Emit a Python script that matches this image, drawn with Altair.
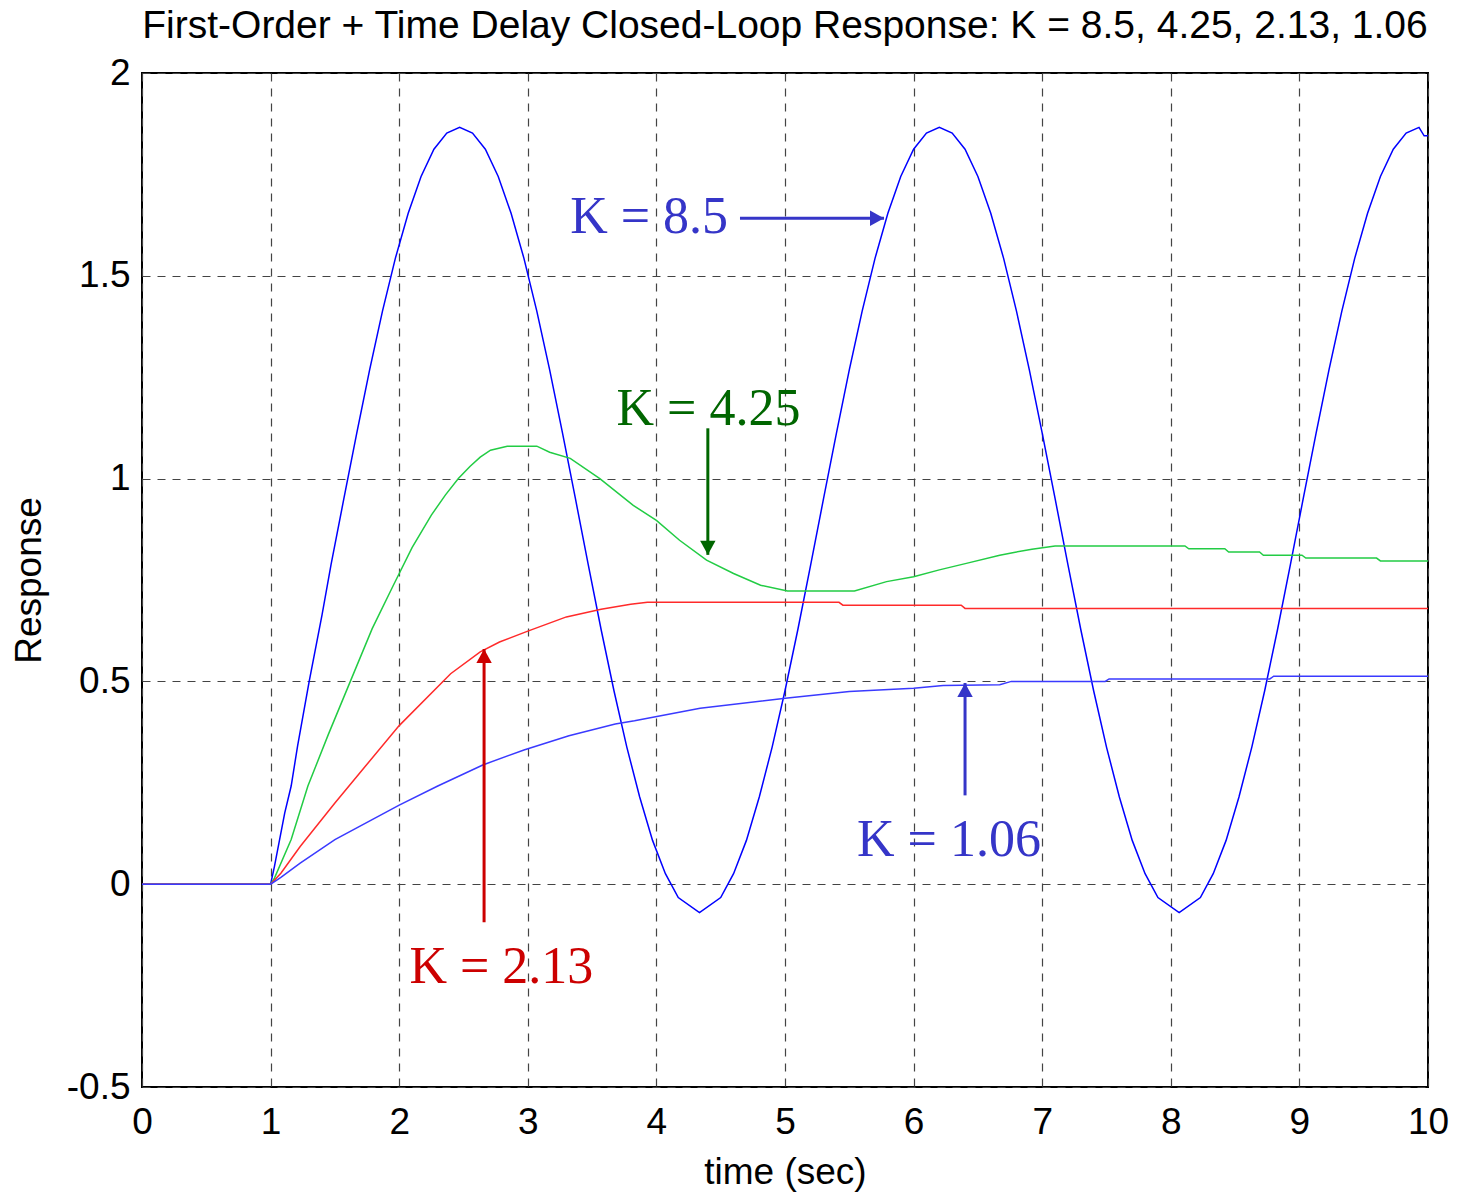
import altair as alt
import pandas as pd

# ---- data ----
t_k85 = [0, 1.0, 1.03, 1.11, 1.16, 1.21, 1.30, 1.40, 1.47, 1.57, 1.67, 1.77, 1.87, 1.97, 2.07, 2.17,
         2.27, 2.37, 2.47, 2.57, 2.67, 2.77, 2.87, 2.97, 3.07, 3.17, 3.27, 3.37, 3.47, 3.57, 3.67,
         3.77, 3.87, 3.97, 4.07, 4.17, 4.335, 4.50, 4.60, 4.70, 4.80, 4.90, 5.00, 5.10, 5.20, 5.30,
         5.40, 5.50, 5.60, 5.70, 5.80, 5.90, 6.00, 6.10, 6.20, 6.30, 6.40, 6.50, 6.60, 6.70, 6.80,
         6.90, 7.00, 7.10, 7.20, 7.30, 7.40, 7.50, 7.60, 7.70, 7.80, 7.90, 8.065, 8.23, 8.33, 8.43,
         8.53, 8.63, 8.73, 8.83, 8.93, 9.03, 9.13, 9.23, 9.33, 9.43, 9.53, 9.63, 9.73, 9.83, 9.93,
         9.97, 10.0]
v_k85 = [0, 0, 0.044, 0.176, 0.242, 0.341, 0.5, 0.664, 0.788, 0.951, 1.112, 1.268, 1.413, 1.543, 1.654, 1.745,
         1.812, 1.852, 1.866, 1.852, 1.812, 1.745, 1.654, 1.543, 1.413, 1.268, 1.112, 0.951, 0.788, 0.628, 0.477,
         0.338, 0.215, 0.108, 0.026, -0.033, -0.07, -0.033, 0.026, 0.108, 0.215, 0.338, 0.477, 0.628, 0.788, 0.951,
         1.112, 1.268, 1.413, 1.543, 1.654, 1.745, 1.812, 1.852, 1.866, 1.852, 1.812, 1.745, 1.654, 1.543, 1.413,
         1.268, 1.112, 0.951, 0.788, 0.628, 0.477, 0.338, 0.215, 0.108, 0.026, -0.033, -0.07, -0.033, 0.026, 0.108,
         0.215, 0.338, 0.477, 0.628, 0.788, 0.951, 1.112, 1.268, 1.413, 1.543, 1.654, 1.745, 1.812, 1.852, 1.866,
         1.845, 1.845]

t_k425 = [0, 1.0, 1.03, 1.16, 1.29, 1.45, 1.62, 1.79, 1.95, 2.10, 2.25, 2.36, 2.46, 2.55, 2.63, 2.71,
          2.84, 3.07, 3.17, 3.33, 3.56, 3.82, 4.0, 4.18, 4.39, 4.60, 4.81, 5.02, 5.54, 5.79, 6.0,
          6.2, 6.41, 6.67, 6.78, 6.92, 7.10, 8.11, 8.14, 8.42, 8.45, 8.69, 8.72, 9.02, 9.05, 9.60,
          9.63, 10.0]
v_k425 = [0, 0, 0.015, 0.11, 0.242, 0.37, 0.5, 0.63, 0.734, 0.83, 0.91, 0.96, 1.0, 1.03, 1.053, 1.07,
          1.08, 1.08, 1.065, 1.05, 1.0, 0.934, 0.897, 0.848, 0.799, 0.766, 0.737, 0.723, 0.723, 0.746, 0.758,
          0.775, 0.791, 0.811, 0.818, 0.826, 0.834, 0.834, 0.827, 0.827, 0.819, 0.819, 0.811, 0.811, 0.804, 0.804,
          0.797, 0.797]

t_k213 = [0, 1.0, 1.08, 1.23, 1.5, 1.74, 2.0, 2.4, 2.63, 2.78, 3.0, 3.3, 3.57, 3.8, 3.93, 5.42, 5.45,
          6.37, 6.40, 10.0]
v_k213 = [0, 0, 0.027, 0.093, 0.2, 0.292, 0.391, 0.519, 0.573, 0.597, 0.624, 0.659, 0.678, 0.69, 0.695,
          0.695, 0.688, 0.688, 0.680, 0.680]

t_k106 = [0, 1.0, 1.08, 1.23, 1.5, 2.0, 2.3, 2.65, 2.97, 3.32, 3.68, 3.83, 4.34, 5.02, 5.5, 6.0, 6.23,
          6.67, 6.76, 7.49, 7.52, 8.77, 8.80, 10.0]
v_k106 = [0, 0, 0.017, 0.052, 0.11, 0.195, 0.242, 0.294, 0.331, 0.366, 0.395, 0.403, 0.434, 0.459, 0.475,
          0.483, 0.49, 0.492, 0.5, 0.5, 0.506, 0.506, 0.513, 0.513]

series_names = ["K = 8.5", "K = 4.25", "K = 2.13", "K = 1.06"]

# annotation labels (data coordinates)
ann_text = ["K = 8.5", "K = 4.25", "K = 2.13", "K = 1.06"]
ann_t = [3.33, 3.69, 2.08, 5.56]
ann_v = [1.605, 1.132, -0.244, 0.07]

# arrows: start (t, v) -> tip (t2, v2)
arr_t = [4.65, 4.40, 2.66, 6.40]
arr_v = [1.642, 1.124, -0.094, 0.219]
arr_t2 = [5.77, 4.40, 2.66, 6.40]
arr_v2 = [1.642, 0.812, 0.580, 0.496]
arr_dir = ["right", "down", "up", "up"]

x_ticks = list(range(0, 11))
y_ticks = [-0.5, 0, 0.5, 1, 1.5, 2]

# ---- tables ----
rows = []
for name, ts, vs in zip(series_names, [t_k85, t_k425, t_k213, t_k106], [v_k85, v_k425, v_k213, v_k106]):
    for i, (a, b) in enumerate(zip(ts, vs)):
        rows.append({"series": name, "t": a, "v": b, "i": i})
df = pd.DataFrame(rows)

df_txt = pd.DataFrame({"series": series_names, "label": ann_text, "t": ann_t, "v": ann_v})
df_arr = pd.DataFrame({"series": series_names, "t": arr_t, "v": arr_v, "t2": arr_t2, "v2": arr_v2,
                       "dir": arr_dir})

line_colors = ["#0000ff", "#22cc44", "#ff2a2a", "#3a3aff"]
ann_colors = ["#3535c8", "#006600", "#cc0000", "#3535c8"]

head_paths = {
    "right": "M0,0 L-1,-0.55 L-1,0.55 Z",
    "down": "M0,0 L-0.55,-1 L0.55,-1 Z",
    "up": "M0,0 L-0.55,1 L0.55,1 Z",
}

xscale = alt.Scale(domain=[0, 10], nice=False, zero=False)
yscale = alt.Scale(domain=[-0.5, 2], nice=False, zero=False)

xaxis = alt.Axis(values=x_ticks, title="time (sec)", grid=True, ticks=False, domain=False,
                 labelFlush=False, labelPadding=17, titlePadding=14,
                 labelExpr="toString(datum.value)")
yaxis = alt.Axis(values=y_ticks, title="Response", grid=True, ticks=False, domain=False,
                 labelFlush=False, labelPadding=12, titlePadding=18,
                 labelExpr="toString(datum.value)")

lines = alt.Chart(df).mark_line(strokeWidth=1.5).encode(
    x=alt.X("t:Q", scale=xscale, axis=xaxis),
    y=alt.Y("v:Q", scale=yscale, axis=yaxis),
    color=alt.Color("series:N", scale=alt.Scale(domain=series_names, range=line_colors), legend=None),
    order="i:Q",
)

ann_color = alt.Color("series:N", scale=alt.Scale(domain=series_names, range=ann_colors), legend=None)

texts = alt.Chart(df_txt).mark_text(align="left", baseline="alphabetic", font="Liberation Serif",
                                    fontSize=52).encode(
    x=alt.X("t:Q", scale=xscale),
    y=alt.Y("v:Q", scale=yscale),
    text="label:N",
    color=ann_color,
)

shafts = alt.Chart(df_arr).mark_rule(strokeWidth=3).encode(
    x=alt.X("t:Q", scale=xscale),
    y=alt.Y("v:Q", scale=yscale),
    x2="t2:Q",
    y2="v2:Q",
    color=ann_color,
)

heads = alt.Chart(df_arr).mark_point(filled=True, size=784, opacity=1, strokeWidth=0).encode(
    x=alt.X("t2:Q", scale=xscale),
    y=alt.Y("v2:Q", scale=yscale),
    shape=alt.Shape("dir:N", scale=alt.Scale(domain=list(head_paths.keys()),
                                             range=list(head_paths.values())), legend=None),
    color=ann_color,
)

chart = alt.layer(lines, shafts, heads, texts).resolve_scale(color="independent").properties(
    width=1286,
    height=1014,
    background="white",
    padding={"left": 142, "top": 73, "right": 30, "bottom": 108},
    autosize=alt.AutoSizeParams(type="none"),
    title=alt.TitleParams(
        "First-Order + Time Delay Closed-Loop Response: K = 8.5, 4.25, 2.13, 1.06",
        font="Liberation Sans", fontSize=39, fontWeight="normal", color="black",
        anchor="middle", baseline="alphabetic", offset=20, dy=43,
    ),
).configure_view(
    stroke="black", strokeWidth=2
).configure_axis(
    labelFont="Liberation Sans", titleFont="Liberation Sans",
    labelFontSize=37, titleFontSize=37, labelColor="black", titleColor="black",
    titleFontWeight="normal", gridColor="#444444", gridWidth=1.2, gridDash=[8, 7], gridOpacity=1,
)

chart.save("out.html", embed_options={"renderer": "svg", "actions": False})
